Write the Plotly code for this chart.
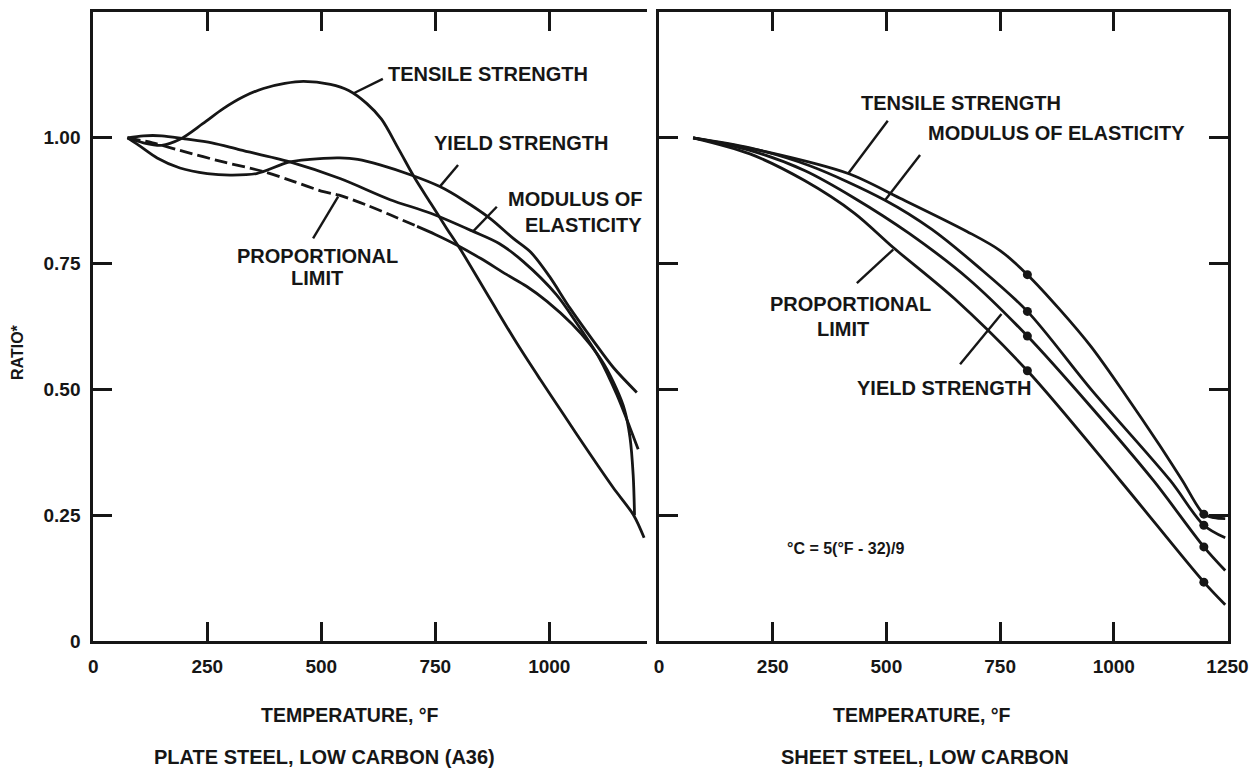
import plotly.graph_objects as go

W, H = 1253, 768

# ---------------- data: plate steel, low carbon (A36) ----------------
plate_tensile_T = [75, 110, 150, 190, 240, 285, 330, 373, 420, 461, 520, 560, 600, 632, 670, 705, 740, 775, 804, 870, 930, 980, 1030, 1089, 1140, 1185, 1208]
plate_tensile_v = [1.0, 0.99, 0.985, 0.997, 1.028, 1.058, 1.082, 1.098, 1.108, 1.112, 1.106, 1.094, 1.068, 1.037, 0.977, 0.92, 0.87, 0.82, 0.78, 0.68, 0.59, 0.52, 0.452, 0.372, 0.305, 0.25, 0.205]

plate_yield_T = [75, 100, 140, 190, 250, 300, 358, 431, 505, 540, 580, 629, 700, 760, 810, 870, 921, 960, 1000, 1045, 1097, 1141, 1192]
plate_yield_v = [1.0, 0.985, 0.96, 0.94, 0.929, 0.926, 0.929, 0.952, 0.959, 0.96, 0.957, 0.946, 0.925, 0.903, 0.877, 0.84, 0.80, 0.772, 0.725, 0.662, 0.596, 0.543, 0.494]

plate_modulus_T = [75, 110, 150, 200, 260, 322, 431, 541, 651, 740, 833, 890, 943, 1016, 1060, 1110, 1148, 1177, 1195]
plate_modulus_v = [1.0, 1.004, 1.004, 0.998, 0.99, 0.976, 0.952, 0.919, 0.877, 0.85, 0.814, 0.79, 0.754, 0.688, 0.632, 0.562, 0.49, 0.424, 0.381]

plate_prop_dash_T = [75, 130, 190, 285, 373, 440, 505, 539, 600, 651, 710]
plate_prop_dash_v = [1.0, 0.99, 0.975, 0.952, 0.933, 0.913, 0.893, 0.886, 0.866, 0.847, 0.824]
plate_prop_solid_T = [710, 750, 797, 850, 907, 950, 995, 1050, 1089, 1120, 1148, 1165, 1177, 1184, 1187]
plate_prop_solid_v = [0.824, 0.808, 0.787, 0.76, 0.728, 0.705, 0.675, 0.63, 0.59, 0.55, 0.50, 0.46, 0.405, 0.33, 0.25]

# ---------------- data: sheet steel, low carbon ----------------
sheet_tensile_T = [75, 237, 416, 530, 677, 750, 810, 880, 950, 1025, 1100, 1150, 1198, 1220, 1245]
sheet_tensile_v = [1.0, 0.972, 0.929, 0.88, 0.814, 0.776, 0.728, 0.66, 0.585, 0.49, 0.39, 0.32, 0.252, 0.245, 0.243]

sheet_modulus_T = [75, 200, 330, 497, 600, 700, 810, 950, 1124, 1198, 1245]
sheet_modulus_v = [1.0, 0.98, 0.945, 0.876, 0.818, 0.745, 0.655, 0.50, 0.319, 0.23, 0.205]

sheet_yield_T = [75, 200, 320, 430, 550, 680, 810, 950, 1087, 1198, 1245]
sheet_yield_v = [1.0, 0.975, 0.935, 0.88, 0.81, 0.72, 0.606, 0.465, 0.319, 0.187, 0.14]

sheet_prop_T = [75, 200, 320, 430, 515, 650, 810, 1014, 1198, 1245]
sheet_prop_v = [1.0, 0.968, 0.915, 0.85, 0.782, 0.68, 0.537, 0.319, 0.117, 0.072]

sheet_dot_T = [810, 1198]
sheet_tensile_dots = [0.728, 0.252]
sheet_modulus_dots = [0.655, 0.23]
sheet_yield_dots = [0.606, 0.187]
sheet_prop_dots = [0.537, 0.117]

# tick labels
plate_xticks = [0, 250, 500, 750, 1000]
sheet_xticks = [0, 250, 500, 750, 1000, 1250]
y_ticks = [0, 0.25, 0.5, 0.75, 1.0]
y_ticktext = ["0", "0.25", "0.50", "0.75", "1.00"]

INK = "#161616"
FONT = "Liberation Sans"
LW = 2.8

fig = go.Figure()

def curve(T, v, xa, ya, dash="solid"):
    fig.add_trace(go.Scatter(x=T, y=v, mode="lines", xaxis=xa, yaxis=ya,
                             line=dict(color=INK, width=LW, shape="spline", smoothing=0.9, dash=dash),
                             showlegend=False, hoverinfo="skip"))

curve(plate_tensile_T, plate_tensile_v, "x", "y")
curve(plate_yield_T, plate_yield_v, "x", "y")
curve(plate_modulus_T, plate_modulus_v, "x", "y")
curve(plate_prop_dash_T, plate_prop_dash_v, "x", "y", dash="13px,5px")
curve(plate_prop_solid_T, plate_prop_solid_v, "x", "y")

curve(sheet_tensile_T, sheet_tensile_v, "x2", "y2")
curve(sheet_modulus_T, sheet_modulus_v, "x2", "y2")
curve(sheet_yield_T, sheet_yield_v, "x2", "y2")
curve(sheet_prop_T, sheet_prop_v, "x2", "y2")

for dots in (sheet_tensile_dots, sheet_modulus_dots, sheet_yield_dots, sheet_prop_dots):
    fig.add_trace(go.Scatter(x=sheet_dot_T, y=dots, mode="markers", xaxis="x2", yaxis="y2",
                             marker=dict(color=INK, size=9), showlegend=False, hoverinfo="skip"))

ydom = [1 - 641 / H, 1 - 12 / H]
axis_common = dict(showgrid=False, zeroline=False, showline=True, linecolor=INK, linewidth=3,
                   ticks="inside", ticklen=19, tickwidth=2.5, tickcolor=INK, automargin=False,
                   tickfont=dict(family=FONT, size=19, color=INK, weight="bold"))

fig.update_layout(
    width=W, height=H, margin=dict(l=0, r=0, t=0, b=0, pad=0, autoexpand=False),
    paper_bgcolor="white", plot_bgcolor="white",
    xaxis=dict(domain=[93.3 / W, 647.3 / W], range=[0, 1215], tickvals=plate_xticks,
               mirror="ticks", anchor="y", ticklabelstandoff=6, **axis_common),
    yaxis=dict(domain=ydom, range=[0, 1.25], tickvals=y_ticks, ticktext=y_ticktext,
               anchor="x", ticklabelstandoff=6, **axis_common),
    xaxis2=dict(domain=[659 / W, 1227.5 / W], range=[0, 1250], tickvals=sheet_xticks,
                ticktext=[str(t) for t in sheet_xticks],
                mirror="ticks", anchor="y2", ticklabelstandoff=6, **axis_common),
    yaxis2=dict(domain=ydom, range=[0, 1.25], tickvals=y_ticks, showticklabels=False,
                mirror="ticks", anchor="x2", **axis_common),
)

def label(text, x, y, xref, yref, size=20, xanchor="center", angle=0):
    fig.add_annotation(text=text, x=x, y=y, xref=xref, yref=yref, showarrow=False,
                       xanchor=xanchor, yanchor="middle", textangle=angle,
                       font=dict(family=FONT, size=size, color=INK, weight="bold"))

def leader(x0, y0, x1, y1, xref, yref):
    fig.add_shape(type="line", x0=x0, y0=y0, x1=x1, y1=y1, xref=xref, yref=yref,
                  line=dict(color=INK, width=2.4))

# plate labels
label("TENSILE STRENGTH", 642, 1.127, "x", "y", xanchor="left")
leader(635, 1.117, 570, 1.088, "x", "y")
label("YIELD STRENGTH", 742, 0.990, "x", "y", xanchor="left")
leader(800, 0.946, 760, 0.903, "x", "y")
label("MODULUS OF", 1207, 0.879, "x", "y", xanchor="right")
label("ELASTICITY", 1207, 0.826, "x", "y", xanchor="right")
leader(885, 0.863, 833, 0.814, "x", "y")
label("PROPORTIONAL", 491, 0.766, "x", "y")
label("LIMIT", 491, 0.721, "x", "y")
leader(537, 0.883, 482, 0.80, "x", "y")

# sheet labels
label("TENSILE STRENGTH", 440, 1.069, "x2", "y2", xanchor="left")
leader(503, 1.034, 416, 0.929, "x2", "y2")
label("MODULUS OF ELASTICITY", 587, 1.010, "x2", "y2", xanchor="left")
leader(574, 0.966, 497, 0.876, "x2", "y2")
label("PROPORTIONAL", 420, 0.670, "x2", "y2")
label("LIMIT", 405, 0.620, "x2", "y2")
leader(435, 0.711, 515, 0.778, "x2", "y2")
label("YIELD STRENGTH", 431, 0.503, "x2", "y2", xanchor="left")
leader(662, 0.55, 753, 0.65, "x2", "y2")
label("°C = 5(°F - 32)/9", 409, 0.184, "x2", "y2", size=16)

# axis titles and captions
label("TEMPERATURE, °F", 350 / W, 1 - 715 / H, "paper", "paper", size=19.5)
label("TEMPERATURE, °F", 922 / W, 1 - 715 / H, "paper", "paper", size=19.5)
label("PLATE STEEL, LOW CARBON (A36)", 325 / W, 1 - 757 / H, "paper", "paper", size=20)
label("SHEET STEEL, LOW CARBON", 925 / W, 1 - 757 / H, "paper", "paper", size=20)
label("RATIO*", 18 / W, 1 - 352 / H, "paper", "paper", size=16, angle=-90)

fig.write_html("out.html")
